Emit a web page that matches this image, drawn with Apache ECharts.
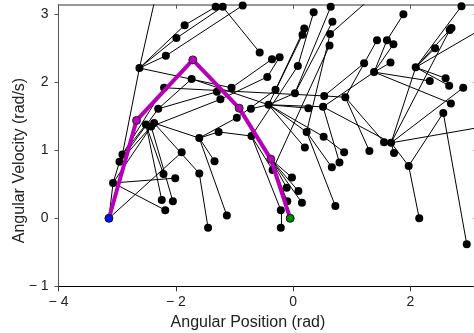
<!DOCTYPE html>
<html>
<head>
<meta charset="utf-8">
<script src="https://cdn.jsdelivr.net/npm/echarts@6/dist/echarts.min.js"></script>
<style>
  html, body { margin: 0; padding: 0; background: #fff; }
  #chart { width: 474px; height: 333px; }
</style>
</head>
<body>
<div id="chart"></div>
<script>
// tree nodes (rad, rad/s); the first 6 are the solution path, start -> goal
const nodeX = [
  -3.14, -2.67, -1.71, -0.92, -0.38, -0.05,
  -3.07, -2.96, -2.91, -2.62, -2.17, -1.99, -1.85, -2.23, -1.32, -1.20, -0.86, -0.57,
  -1.73, -2.30, -2.20, -2.51, -2.37, -2.42, -1.60, -1.90, -2.21, -2.01, -1.60, -2.24,
  -2.05, -2.18, -0.36, -0.23, -0.44, -0.30, 0.03, 0.35, 0.19, 0.16,
  0.08, 0.64, 0.67, 0.63, 0.62, 0.53, 0.51, 0.26, -0.42, -0.72,
  -0.96, -1.05, -1.24, -1.30, -1.27, -1.34, -1.13, -1.45, -0.71, -0.35,
  -0.02, -0.11, 0.09, 0.15, -0.10, -0.21, -0.21, 0.23, 0.52, 0.20,
  0.66, 0.72, 0.87, 0.79, 1.88, 1.43, 1.60, 1.71, 1.21, 1.66,
  1.38, 0.89, 2.87, 2.70, 2.67, 2.42, 2.09, 2.33, 2.60, 2.66,
  2.90, 2.69, 2.56, 1.55, 1.67, 1.72, 1.30, 1.97, 2.15, 2.96,
  3.80, 3.80, 1.50
]
const nodeY = [
  0.00, 1.44, 2.33, 1.62, 0.87, 0.00,
  0.52, 0.83, 0.94, 2.21, 2.39, 2.65, 2.84, 3.70, 3.11, 3.11, 3.13, 2.44,
  2.05, 1.61, 1.92, 1.38, 1.40, 1.35, 1.18, 0.97, 0.65, 0.59, 0.66, 0.27,
  0.25, 0.12, 2.34, 2.37, 2.08, 1.89, 1.84, 3.03, 2.79, 2.70,
  2.24, 3.11, 2.89, 2.71, 2.54, 1.80, 1.64, 1.62, 1.67, 1.61,
  1.48, 1.92, 1.75, 1.86, 1.27, 0.84, 0.04, -0.14, 1.21, 0.71,
  0.60, 0.45, 0.40, 0.23, 0.25, 0.12, -0.14, 1.27, 1.20, 1.04,
  0.75, 0.18, 0.97, 0.82, 3.00, 2.62, 2.62, 2.56, 2.28, 2.29,
  2.15, 1.78, 3.12, 2.80, 2.77, 2.50, 2.22, 2.02, 2.06, 1.95,
  1.92, 1.69, 1.55, 1.12, 1.11, 0.96, 0.99, 0.77, 0.00, -0.38,
  1.43, 3.08, 3.37
]
// index of each node's parent in the tree (-1 = root)
const parent = [
  -1, 0, 1, 2, 3, 4,
  0, 6, 7, 8, 9, 9, 9, 9, 12, 11, 10, 15,
  19, 7, 8, 8, 7, 6, 22, 0, 21, 6, 22, 21,
  23, 6, 51, 34, 52, 50, 48, 40, 35, 48,
  58, 36, 36, 67, 59, 20, 48, 48, 18, 48,
  24, 9, 23, 19, 24, 24, 24, 28, 54, 58,
  4, 4, 4, 4, 4, 58, 65, 48, 48, 48,
  67, 67, 68, 46, 76, 81, 80, 80, 45, 80,
  46, 45, 86, 86, 94, 86, 94, 80, 86, 86,
  94, 80, 97, 81, 46, 94, 81, 94, 97, 92,
  94, 86, 43
]
const pathLength = 6

const xTicks = [-4, -2, 0, 2]
const yTicks = [-1, 0, 1, 2, 3]

const edges = []
for (let i = 0; i < nodeX.length; i++) {
  if (parent[i] < 0) continue
  const p = parent[i]
  edges.push({ coords: [[nodeX[p], nodeY[p]], [nodeX[i], nodeY[i]]] })
}
const treePoints = []
for (let i = pathLength; i < nodeX.length; i++) treePoints.push([nodeX[i], nodeY[i]])
const pathPoints = []
for (let i = 0; i < pathLength; i++) pathPoints.push([nodeX[i], nodeY[i]])

const fmt = v => (v < 0 ? '\u2212 ' + Math.abs(v) : String(v))
const font = 'Liberation Sans, Arial, sans-serif'

const chart = echarts.init(document.getElementById('chart'))
chart.setOption({
  animation: false,
  backgroundColor: '#fff',
  grid: { left: 58.5, top: 4.7, width: 418.9, height: 281.6, outerBoundsMode: 'none' },
  xAxis: [
    {
      type: 'value', min: -4, max: Math.PI, position: 'bottom',
      name: 'Angular Position (rad)', nameLocation: 'middle', nameGap: 28, nameMoveOverlap: false,
      nameTextStyle: { fontSize: 16, color: '#222', fontFamily: font, padding: [0, 40, 0, 0] },
      axisLine: { onZero: false, lineStyle: { color: '#000', width: 1 } },
      axisTick: { inside: false, length: 5, customValues: xTicks, lineStyle: { color: '#333' } },
      axisLabel: { customValues: xTicks, formatter: fmt, fontSize: 14, color: '#222', fontFamily: font, margin: 9 },
      splitLine: { show: false }
    },
    {
      type: 'value', min: -4, max: Math.PI, position: 'top',
      axisLine: { onZero: false, lineStyle: { color: '#777', width: 1.5 } },
      axisTick: { inside: true, length: 4, customValues: xTicks, lineStyle: { color: '#555' } },
      axisLabel: { show: false },
      splitLine: { show: false }
    }
  ],
  yAxis: [
    {
      type: 'value', min: -1, max: Math.PI, position: 'left',
      name: 'Angular Velocity (rad/s)', nameLocation: 'middle', nameGap: 31, nameMoveOverlap: false,
      nameTextStyle: { fontSize: 16, color: '#222', fontFamily: font, padding: [0, 30, 0, 0] },
      axisLine: { onZero: false, lineStyle: { color: '#555', width: 1 } },
      axisTick: { inside: false, length: 4, customValues: yTicks, lineStyle: { color: '#555' } },
      axisLabel: { customValues: yTicks, formatter: fmt, fontSize: 14, color: '#222', fontFamily: font, margin: 10 },
      splitLine: { show: false }
    },
    {
      type: 'value', min: -1, max: Math.PI, position: 'right',
      axisLine: { onZero: false, lineStyle: { color: '#555', width: 1 } },
      axisTick: { inside: true, length: 4, customValues: yTicks, lineStyle: { color: '#555' } },
      axisLabel: { show: false },
      splitLine: { show: false }
    }
  ],
  series: [
    {
      type: 'lines', coordinateSystem: 'cartesian2d', clip: true, z: 1,
      data: edges,
      lineStyle: { color: '#000', width: 1, opacity: 1 },
      silent: true
    },
    {
      type: 'scatter', clip: true, z: 2,
      data: treePoints, symbol: 'circle', symbolSize: 8,
      itemStyle: { color: '#000', opacity: 1 }
    },
    {
      type: 'line', z: 3, data: pathPoints, showSymbol: false,
      lineStyle: { color: '#b800b8', width: 4 }
    },
    {
      type: 'scatter', z: 4, data: pathPoints.slice(1, pathLength - 1), symbolSize: 8,
      itemStyle: { color: '#c000c0', borderColor: '#222', borderWidth: 1, opacity: 1 }
    },
    {
      type: 'scatter', z: 5, data: [pathPoints[0]], symbolSize: 8,
      itemStyle: { color: '#0010ff', borderColor: '#111', borderWidth: 1, opacity: 1 }
    },
    {
      type: 'scatter', z: 5, data: [pathPoints[pathLength - 1]], symbolSize: 8,
      itemStyle: { color: '#008a00', borderColor: '#111', borderWidth: 1, opacity: 1 }
    }
  ]
})
</script>
</body>
</html>
